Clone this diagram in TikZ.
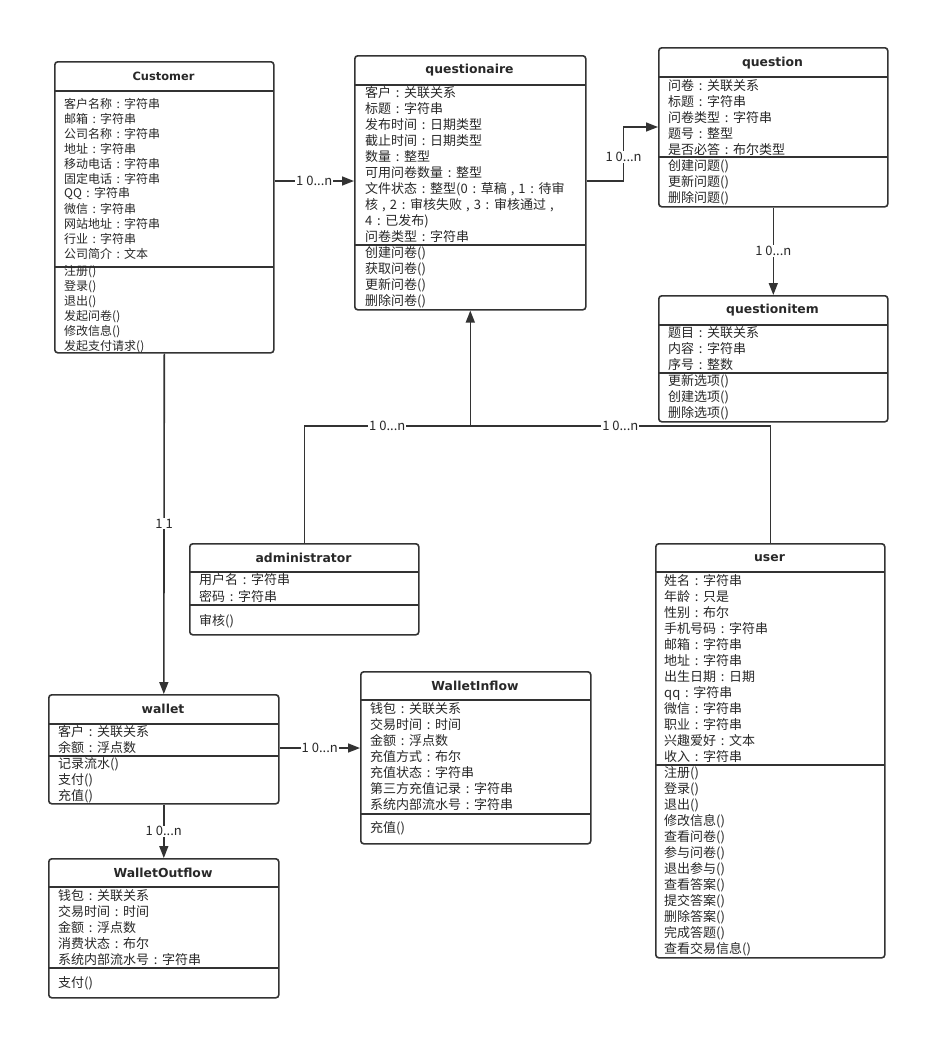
\documentclass[tikz,border=0pt]{standalone}
\usepackage{fontspec}
\setmainfont{Noto Sans CJK SC}
\newfontfamily\ttlfont{DejaVu Sans}
\usetikzlibrary{arrows.meta}
\definecolor{ln}{RGB}{51,51,51}
\definecolor{tx}{RGB}{40,40,40}
\catcode`\：=\active
\protected\def：{\makebox[1em][c]{:}}
\catcode`\，=\active
\protected\def，{\makebox[0.9em][c]{,}}
\begin{document}
\begin{tikzpicture}[x=1pt,y=-1pt,
 cls/.style={draw=ln, line width=1.6pt, rounded corners=3pt, inner sep=0pt, anchor=north west},
 div/.style={draw=ln, line width=1.6pt},
 ttl/.style={font=\ttlfont\bfseries\fontsize{12.4}{14}\selectfont, text=tx, inner sep=0pt},
 cttl/.style={font=\ttlfont\bfseries\fontsize{11.4}{13}\selectfont, text=tx, inner sep=0pt},
 attr/.style={font=\fontsize{13}{15}\selectfont, text=tx, anchor=west, inner sep=0pt},
 cattr/.style={font=\fontsize{12}{14}\selectfont, text=tx, anchor=west, inner sep=0pt},
 conn/.style={draw=ln, line width=1.6pt},
 arr/.style={conn, -{Triangle[length=12pt,width=9pt]}},
 lbl/.style={fill=white, font=\fontsize{13}{15}\selectfont, text=tx, inner sep=1pt}
]
\useasboundingbox[fill=white] (0,0) rectangle (949,1060);

% ---------- Customer
\node[cls, minimum width=219pt, minimum height=291pt] (customer) at (54,61) {};
\node[cttl] (customer-t) at (163.5,76) {Customer};
\draw[div] (54,91) -- (273,91);
\draw[div] (54,267) -- (273,267);
\foreach \t [count=\i from 0] in {客户名称：字符串,邮箱：字符串,公司名称：字符串,地址：字符串,移动电话：字符串,固定电话：字符串,QQ：字符串,微信：字符串,网站地址：字符串,行业：字符串,公司简介：文本}
  \node[cattr] (customer-a\i) at (64,104+15*\i) {\t};
\foreach \t [count=\i from 0] in {注册(),登录(),退出(),发起问卷(),修改信息(),发起支付请求()}
  \node[cattr] (customer-m\i) at (64,272+15*\i) {\t};

% ---------- questionaire
\node[cls, minimum width=231pt, minimum height=254pt] (questionaire) at (354,55) {};
\node[ttl] (questionaire-t) at (469.5,70) {questionaire};
\draw[div] (354,85) -- (585,85);
\draw[div] (354,245) -- (585,245);
\foreach \t [count=\i from 0] in {客户：关联关系,标题：字符串,发布时间：日期类型,截止时间：日期类型,数量：整型,可用问卷数量：整型,文件状态：整型(0：草稿，1：待审,核，2：审核失败，3：审核通过，,4：已发布),问卷类型：字符串}
  \node[attr] (questionaire-a\i) at (365,93+16*\i) {\t};
\foreach \t [count=\i from 0] in {创建问卷(),获取问卷(),更新问卷(),删除问卷()}
  \node[attr] (questionaire-m\i) at (365,253+16*\i) {\t};

% ---------- question
\node[cls, minimum width=229pt, minimum height=159pt] (question) at (658,47) {};
\node[ttl] (question-t) at (772.5,63) {question};
\draw[div] (658,77) -- (887,77);
\draw[div] (658,157) -- (887,157);
\foreach \t [count=\i from 0] in {问卷：关联关系,标题：字符串,问卷类型：字符串,题号：整型,是否必答：布尔类型}
  \node[attr] (question-a\i) at (668,86+16*\i) {\t};
\foreach \t [count=\i from 0] in {创建问题(),更新问题(),删除问题()}
  \node[attr] (question-m\i) at (668,166+16*\i) {\t};

% ---------- questionitem
\node[cls, minimum width=229pt, minimum height=126pt] (questionitem) at (658,295) {};
\node[ttl] (questionitem-t) at (772.5,310) {questionitem};
\draw[div] (658,325) -- (887,325);
\draw[div] (658,373) -- (887,373);
\foreach \t [count=\i from 0] in {题目：关联关系,内容：字符串,序号：整数}
  \node[attr] (questionitem-a\i) at (668,333+16*\i) {\t};
\foreach \t [count=\i from 0] in {更新选项(),创建选项(),删除选项()}
  \node[attr] (questionitem-m\i) at (668,381+16*\i) {\t};

% ---------- administrator
\node[cls, minimum width=229pt, minimum height=91pt] (admin) at (189,543) {};
\node[ttl] (admin-t) at (303.5,558) {administrator};
\draw[div] (189,572) -- (418,572);
\draw[div] (189,605) -- (418,605);
\foreach \t [count=\i from 0] in {用户名：字符串,密码：字符串}
  \node[attr] (admin-a\i) at (199,580+16*\i) {\t};
\node[attr] (admin-m0) at (199,621) {审核()};

% ---------- user
\node[cls, minimum width=229pt, minimum height=414pt] (user) at (655,543) {};
\node[ttl] (user-t) at (769.5,558) {user};
\draw[div] (655,572) -- (884,572);
\draw[div] (655,765) -- (884,765);
\foreach \t [count=\i from 0] in {姓名：字符串,年龄：只是,性别：布尔,手机号码：字符串,邮箱：字符串,地址：字符串,出生日期：日期,qq：字符串,微信：字符串,职业：字符串,兴趣爱好：文本,收入：字符串}
  \node[attr] (user-a\i) at (664,581+16*\i) {\t};
\foreach \t [count=\i from 0] in {注册(),登录(),退出(),修改信息(),查看问卷(),参与问卷(),退出参与(),查看答案(),提交答案(),删除答案(),完成答题(),查看交易信息()}
  \node[attr] (user-m\i) at (664,773+16*\i) {\t};

% ---------- wallet
\node[cls, minimum width=230pt, minimum height=109pt] (wallet) at (48,694) {};
\node[ttl] (wallet-t) at (163,709) {wallet};
\draw[div] (48,724) -- (278,724);
\draw[div] (48,756) -- (278,756);
\foreach \t [count=\i from 0] in {客户：关联关系,余额：浮点数}
  \node[attr] (wallet-a\i) at (58,732+16*\i) {\t};
\foreach \t [count=\i from 0] in {记录流水(),支付(),充值()}
  \node[attr] (wallet-m\i) at (58,764+16*\i) {\t};

% ---------- WalletInflow
\node[cls, minimum width=230pt, minimum height=172pt] (inflow) at (360,671) {};
\node[ttl] (inflow-t) at (475,686) {WalletInflow};
\draw[div] (360,700) -- (590,700);
\draw[div] (360,814) -- (590,814);
\foreach \t [count=\i from 0] in {钱包：关联关系,交易时间：时间,金额：浮点数,充值方式：布尔,充值状态：字符串,第三方充值记录：字符串,系统内部流水号：字符串}
  \node[attr] (inflow-a\i) at (370,709+16*\i) {\t};
\node[attr] (inflow-m0) at (370,828) {充值()};

% ---------- WalletOutflow
\node[cls, minimum width=230pt, minimum height=139pt] (outflow) at (48,858) {};
\node[ttl] (outflow-t) at (163,873) {WalletOutflow};
\draw[div] (48,887) -- (278,887);
\draw[div] (48,968) -- (278,968);
\foreach \t [count=\i from 0] in {钱包：关联关系,交易时间：时间,金额：浮点数,消费状态：布尔,系统内部流水号：字符串}
  \node[attr] (outflow-a\i) at (58,896+16*\i) {\t};
\node[attr] (outflow-m0) at (58,983) {支付()};

% ---------- connectors
\path (customer.north east) ++(0,120) coordinate (c1);
\draw[arr] (c1) -- (c1 -| questionaire.west) node[lbl, pos=0.5] (l1) {1 0...n};

\path (questionaire.north east) ++(0,126) coordinate (q1);
\path (question.north west) ++(0,80) coordinate (q2);
\draw[arr] (q1) -- ++(37,0) |- (q2) node[lbl, pos=0.22] (l2) {1 0...n};

\draw[arr] (question.south) -- (questionitem.north) node[lbl, pos=0.5] (l3) {1 0...n};

\coordinate (j) at (questionaire.south |- 0,426);
\draw[conn] (admin.north) |- (j) node[lbl, pos=0.75] (l4) {1 0...n};
\draw[conn] (user.north) |- (j) node[lbl, pos=0.75] (l5) {1 0...n};
\draw[arr] (j) -- (questionaire.south);

\draw[arr] (customer.south) -- (wallet.north) node[lbl, pos=0.5] (l6) {1 1};

\path (wallet.north east) ++(0,54) coordinate (w1);
\draw[arr] (w1) -- (w1 -| inflow.west) node[lbl, pos=0.5] (l7) {1 0...n};

\draw[arr] (wallet.south) -- (outflow.north) node[lbl, pos=0.5] (l8) {1 0...n};
\end{tikzpicture}
\end{document}
